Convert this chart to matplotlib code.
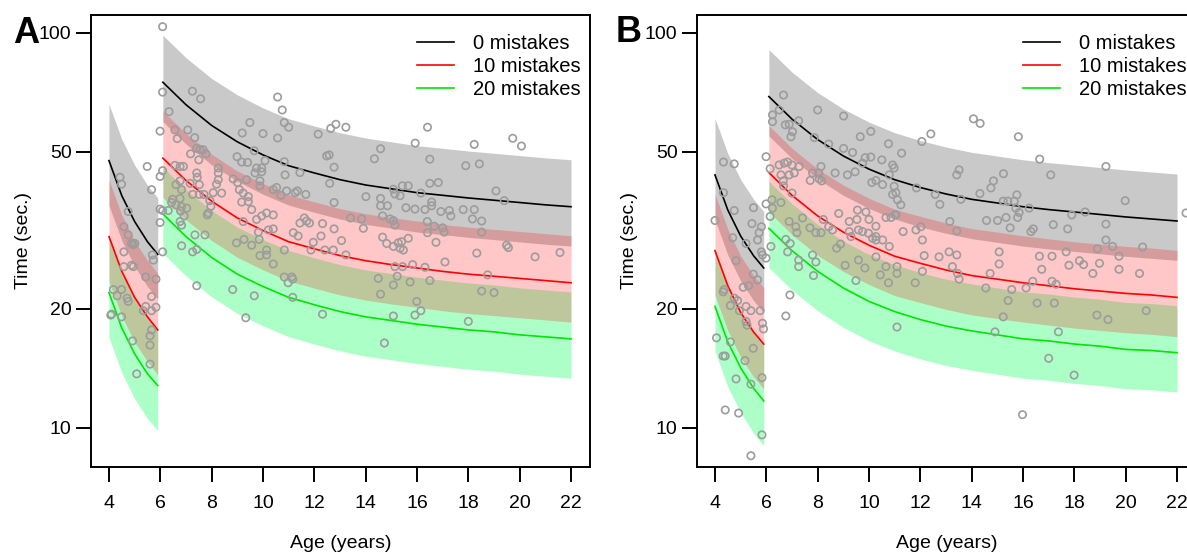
import matplotlib
matplotlib.use('Agg')
import matplotlib.pyplot as plt
import numpy as np

plt.rcParams['font.family'] = ['Liberation Sans', 'DejaVu Sans']

# model curves (time in sec.)
ages_young = [4.0, 4.5, 5.0, 5.5, 5.9]
ages_old = [6.1, 7, 8, 9, 10, 11, 12, 13, 14, 15, 16, 17, 18, 19, 20, 21, 22]

a_black_young = [47.5, 38.7, 33.3, 29.6, 27.5]
a_red_young = [30.5, 24.9, 21.4, 19.1, 17.7]
a_green_young = [22.0, 17.9, 15.4, 13.7, 12.8]
a_black_old = [75.0, 65.8, 58.3, 53.0, 49.1, 46.1, 44.2, 42.5, 41.2, 40.3, 39.4, 38.8, 38.2, 37.7, 37.2, 36.7, 36.3]
a_red_old = [48.2, 42.3, 37.5, 34.0, 31.6, 29.6, 28.4, 27.3, 26.5, 25.9, 25.4, 24.9, 24.5, 24.2, 23.9, 23.6, 23.3]
a_green_old = [34.8, 30.5, 27.0, 24.5, 22.8, 21.4, 20.5, 19.7, 19.1, 18.7, 18.3, 18.0, 17.7, 17.5, 17.2, 17.0, 16.8]

b_black_young = [43.7, 35.6, 30.6, 27.3, 25.4]
b_red_young = [28.1, 22.9, 19.6, 17.5, 16.3]
b_green_young = [20.3, 16.5, 14.2, 12.6, 11.7]
b_black_old = [69.0, 60.5, 53.7, 48.8, 45.2, 42.5, 40.6, 39.1, 37.9, 37.1, 36.3, 35.7, 35.2, 34.7, 34.2, 33.8, 33.4]
b_red_old = [44.3, 38.8, 34.4, 31.3, 29.0, 27.2, 26.1, 25.1, 24.3, 23.8, 23.3, 22.9, 22.5, 22.2, 21.9, 21.7, 21.4]
b_green_old = [32.0, 28.1, 24.9, 22.6, 20.9, 19.7, 18.8, 18.1, 17.6, 17.2, 16.8, 16.6, 16.3, 16.1, 15.8, 15.7, 15.5]

# interval edges as ratio to the curve (upper, lower)
band_young = (1.39, 0.77)
band_old = (1.315, 0.795)

labels = ['0 mistakes', '10 mistakes', '20 mistakes']

# observed points (age, time)
a_age = [4.43, 4.49, 5.66, 4.75, 4.58, 4.75, 4.88, 4.95, 5.01, 4.58, 4.58, 4.88, 4.95, 5.69, 5.73, 5.43, 5.83,
         4.17, 4.49, 4.32, 4.71, 4.75, 5.66, 5.43, 5.34, 5.66, 5.83, 4.1, 4.07, 4.49, 5.66, 5.6, 4.92, 5.08, 5.6,
         5.6, 5.49,
         6.09, 6.09, 7.25, 7.57, 6.34, 5.99, 6.57, 6.66, 7.07, 7.34, 6.09, 6.57, 6.77, 6.9, 7.42, 7.55, 7.67, 7.18,
         7.5, 7.78, 8.26, 8.99, 9.19, 9.49, 9.17, 9.40, 9.66, 9.75, 9.95, 10.08, 10.0, 10.57, 10.75, 10.57, 10.83,
         11.0, 10.83, 12.15, 12.64, 12.84, 13.23, 12.48, 12.58, 12.77,
         16.41, 14.58, 14.34, 15.93, 16.5, 18.23, 17.9, 18.43, 19.73, 20.07,
         5.99, 6.77, 7.16, 7.42, 7.44, 7.52, 7.26, 7.52, 7.7, 8.06, 8.26, 8.26, 6.48, 6.61, 6.83, 7.03, 6.79, 6.93,
         5.99, 6.09, 6.31, 5.99, 6.77, 6.83, 6.09, 6.83, 7.35, 7.74, 7.26, 7.42, 7.83, 7.97, 7.42, 8.82, 9.66, 9.33,
         9.17, 9.43, 9.56, 9.75, 9.95, 10.14, 10.4, 9.23, 8.97, 9.26, 9.56, 9.85, 10.14, 10.14, 10.4, 9.82, 10.21,
         10.4, 10.83, 11.12, 10.98, 11.16, 11.18, 11.37, 11.44, 11.61, 11.7, 11.81, 11.96, 12.26, 12.32, 12.77,
         13.06, 13.23, 12.32, 10.86, 11.25, 11.34, 11.67, 12.77, 12.6, 11.44, 9.69, 9.95, 9.88, 9.36, 9.88, 8.84,
         9.01, 9.08, 9.23, 9.43, 10.4, 10.53, 10.7, 10.92, 8.19, 8.39, 7.93, 7.87, 6.61, 6.83, 6.77, 6.44, 9.88,
         10.83, 11.16, 11.87, 12.41, 12.74,
         14.01, 14.58, 14.58, 14.85, 14.66, 14.95, 15.08, 15.14, 15.43, 15.66, 15.08, 15.14, 15.34, 15.57, 15.92,
         16.31, 16.15, 16.5, 16.83, 16.57, 16.57, 16.93, 17.26, 17.32, 17.8, 18.23, 18.16, 18.52, 18.52, 19.08,
         19.4, 13.41, 13.84, 13.91, 14.66, 14.82, 15.08, 15.27, 15.4, 15.47, 15.34, 15.66, 16.4, 16.41, 16.67, 17.0,
         17.06, 16.74, 17.09, 18.33, 19.49, 19.56, 20.6, 21.57, 15.14, 15.44, 15.83, 16.31, 15.23, 15.08, 15.73,
         16.5, 14.49, 14.58, 15.99, 16.15, 15.92, 15.08, 18.0, 18.75, 18.52, 19.0, 14.73]
a_time = [43.1, 41.4, 40.1, 35.3, 32.3, 30.8, 29.3, 29.1, 29.3, 27.9, 25.6, 25.8, 25.6, 27.4, 26.6, 24.1, 23.8,
          22.4, 22.4, 21.6, 21.3, 20.9, 21.5, 20.3, 19.8, 19.8, 20.2, 19.4, 19.3, 19.1, 17.7, 17.1, 16.6, 13.7, 16.2,
          14.5, 45.9,
          103.7, 70.8, 71.2, 68.1, 63.2, 56.4, 56.8, 54.0, 56.8, 54.3, 44.8, 46.2, 45.9, 45.9, 51.0, 50.7, 50.6, 49.4,
          47.7, 49.4, 45.5, 48.6, 55.8, 59.3, 47.1, 47.0, 50.3, 45.5, 45.5, 47.5, 55.6, 68.8, 63.8, 54.2, 59.3,
          57.7, 47.2, 55.4, 57.3, 58.7, 57.7, 48.8, 49.1, 45.7,
          57.7, 50.9, 48.0, 52.6, 47.9, 52.2, 46.1, 46.6, 54.1, 51.7,
          43.3, 42.2, 41.6, 44.2, 43.1, 41.3, 39.0, 39.0, 39.0, 39.4, 44.2, 42.5, 37.9, 36.7, 36.3, 36.0, 35.4, 34.4,
          35.8, 35.5, 35.5, 33.1, 33.3, 32.6, 27.9, 28.9, 30.8, 30.8, 27.9, 28.3, 34.6, 36.4, 22.9, 22.4, 21.6, 19.0,
          37.3, 37.4, 35.7, 33.7, 34.4, 35.0, 34.6, 33.3, 29.4, 30.0, 29.0, 30.0, 28.2, 27.4, 26.0, 31.3, 31.7,
          31.9, 28.2, 24.1, 23.3, 21.4, 31.2, 30.6, 33.0, 34.0, 33.4, 33.0, 29.5, 30.6, 32.9, 31.9,
          29.8, 27.4, 19.4, 43.7, 39.4, 39.8, 39.0, 37.2, 41.6, 44.3, 44.2, 44.5, 42.2, 42.5, 41.0, 42.7,
          41.8, 40.1, 39.3, 38.5, 40.1, 40.6, 38.8, 39.8, 41.4, 39.3, 37.6, 35.0, 41.3, 40.1, 38.1, 37.2, 27.3,
          24.1, 23.8, 28.2, 28.2, 28.2,
          38.5, 38.1, 36.5, 36.5, 34.4, 33.8, 33.5, 32.6, 41.0, 41.0, 40.2, 39.1, 38.7, 36.1, 35.8,
          35.7, 39.3, 41.6, 41.8, 37.3, 36.5, 35.3, 35.5, 34.4, 35.7, 35.7, 33.8, 33.4, 31.3, 39.8,
          37.6, 34.0, 33.8, 32.0, 30.4, 29.3, 28.8, 29.4, 29.6, 28.2, 28.5, 30.2, 33.3, 31.2, 32.4, 32.1,
          31.3, 29.5, 26.3, 27.7, 29.0, 28.6, 27.1, 27.8, 25.6, 25.6, 25.9, 25.5, 24.2, 23.0, 23.4,
          23.6, 23.9, 21.8, 20.9, 19.8, 19.3, 19.2, 18.6, 24.4, 22.2, 22.0, 16.4]

b_age = [4.33, 4.75, 4.33, 4.75, 5.5, 4.0, 5.44, 5.81, 5.72, 4.69, 5.21, 5.66, 4.82, 5.49, 5.66, 5.81, 5.85, 5.1,
         5.31, 4.36, 4.32, 4.6, 4.75, 4.88, 4.95, 5.21, 5.4, 5.76, 5.21, 5.25, 5.85, 5.89, 4.06, 4.32, 4.4, 4.6,
         5.49, 5.17, 4.82, 5.4, 5.83, 4.4, 4.92, 5.83, 5.4,
         5.99, 6.24, 6.24, 6.5, 6.67, 6.74, 6.89, 7.02, 7.26, 6.96, 8.0, 9.01, 7.87, 8.43, 9.01, 9.36, 9.66, 10.07,
         9.85, 10.07, 10.5, 10.76, 10.92, 6.5, 6.7, 6.83, 7.0, 7.09, 7.28, 6.57, 6.89, 6.66, 6.15, 7.8, 8.04, 8.13,
         7.71, 8.06, 8.16, 8.68, 9.16, 9.46, 9.75, 10.11, 10.27, 10.53, 10.79, 10.98, 11.05, 6.67, 7.0, 6.57, 5.99,
         7.41, 7.7, 8.22, 8.58, 8.82, 9.23, 9.55, 9.53, 9.59, 9.88, 10.0, 10.27, 10.27, 10.14, 10.66, 10.86, 11.02,
         6.22, 6.24, 6.15, 6.89, 7.15, 6.76, 6.93, 6.18, 7.19, 7.93, 8.13, 8.43, 8.74, 8.89, 9.23, 9.3, 9.75, 9.98,
         10.27, 10.53, 10.79,
         5.99, 6.92, 6.76, 7.26, 7.26, 7.84, 7.93, 9.07, 9.49, 9.59, 9.84, 10.27, 10.44, 10.66, 10.76, 11.09,
         11.09, 11.09, 6.83, 7.8,
         14.07, 14.33, 12.41, 12.06, 15.82, 16.65, 19.23, 17.08, 15.24, 14.85, 14.75, 13.51, 13.42, 11.27, 10.98,
         10.92, 11.11, 11.24, 11.05, 11.85, 12.58, 12.76, 13.58, 14.32, 15.23, 15.41, 15.66, 15.76, 15.72, 15.85,
         16.24, 17.9, 18.42, 19.98, 19.23, 13.15, 13.42, 14.58, 15.01, 15.34, 15.5, 15.79, 16.31, 16.4, 17.18,
         17.74, 18.9, 19.23, 19.49, 20.66, 11.33, 11.83, 12.02, 12.08, 22.35,
         12.15, 12.73, 13.12, 13.42, 13.25, 13.45, 13.51, 11.8, 12.08, 14.55, 14.72, 15.07, 15.07, 15.56, 15.42,
         15.23, 14.91, 16.12, 16.38, 16.64, 16.73, 16.55, 17.13, 17.13, 17.29, 17.22, 17.38, 17.68, 17.79, 18.2,
         18.36, 18.72, 18.98, 18.88, 19.31, 19.74, 19.74, 20.54, 20.8, 17.0, 17.99, 15.98]
b_time = [47.1, 46.6, 39.4, 35.5, 36.1, 33.5, 32.9, 32.3, 31.2, 30.3, 29.3, 29.9, 26.5, 24.5, 23.7, 27.9, 27.4, 22.7,
          22.9, 22.4, 22.1, 20.4, 21.3, 21.0, 19.8, 20.3, 19.8, 19.8, 18.6, 18.2, 18.4, 17.8, 16.9, 15.2, 15.2, 16.5,
          15.9, 14.8, 13.3, 12.9, 13.4, 11.1, 10.9, 9.6, 8.5,
          48.6, 59.6, 62.0, 63.8, 69.6, 58.5, 58.7, 56.2, 59.9, 54.6, 63.8, 61.6, 54.3, 52.3, 51.0, 49.8, 54.6, 56.3,
          48.3, 48.5, 47.7, 52.4, 46.3, 46.3, 46.8, 47.1, 46.3, 44.2, 45.9, 43.7, 43.7, 42.2, 45.3, 44.2, 44.2, 45.9,
          42.3, 42.7, 42.2, 44.2, 43.7, 44.5, 46.8, 41.8, 42.3, 41.3, 43.7, 45.5, 39.4, 41.0, 39.3, 37.2, 36.9,
          34.0, 32.1, 33.7, 31.7, 34.9, 33.3, 35.6, 33.7, 31.7, 35.2, 33.7, 32.4, 30.5, 30.2, 34.1, 34.1, 34.7,
          37.8, 36.0, 34.3, 33.3, 32.3, 30.0, 29.3, 28.8, 31.2, 31.2, 31.2, 32.3, 28.5, 29.2, 31.4, 30.5, 31.4, 31.1,
          29.9, 29.9, 28.8,
          26.9, 21.7, 19.2, 26.6, 25.6, 24.3, 26.3, 25.8, 23.6, 26.6, 25.4, 27.1, 24.4, 25.6, 23.3, 25.6,
          24.6, 18.0, 27.9, 27.4,
          60.6, 59.0, 55.5, 53.1, 54.6, 47.9, 45.9, 43.7, 44.0, 42.2, 40.5, 45.0, 43.7, 49.6, 40.9,
          39.0, 37.8, 36.7, 34.6, 40.5, 39.0, 36.8, 37.9, 39.2, 37.5, 37.5, 37.5, 38.9, 36.0, 35.1,
          36.0, 34.6, 35.2, 37.6, 32.8, 33.3, 31.5, 33.5, 33.5, 34.1, 32.1, 34.1, 31.4, 31.9, 32.7,
          31.9, 28.4, 29.9, 28.8, 28.7, 31.4, 31.7, 32.3, 29.9, 35.0,
          27.3, 27.1, 27.9, 27.4, 25.6, 24.6, 23.8, 23.3, 24.9, 22.6, 24.6, 26.0, 27.9, 22.4, 21.0,
          19.1, 17.5, 22.6, 23.5, 27.2, 25.2, 20.7, 27.2, 23.5, 23.1, 20.7, 17.5, 27.9, 25.8, 26.5,
          25.9, 24.6, 26.1, 19.3, 18.8, 27.2, 25.2, 24.6, 19.8, 15.0, 13.6, 10.8]

line_colors = ['black', '#ff0000', '#00e600']
band_colors = [('#808080', 0.42), ('#ff0000', 0.22), ('#00ff55', 0.32)]


def draw_panel(ax, young, old, pts_x, pts_y):
    # bands: gray, green, then red on top
    for i in [0, 2, 1]:
        for ages, curves, band in [(ages_young, young, band_young), (ages_old, old, band_old)]:
            c = np.array(curves[i])
            ax.fill_between(ages, c * band[1], c * band[0], color=band_colors[i][0],
                            alpha=band_colors[i][1], lw=0)
    handles = []
    for i in range(3):
        ax.plot(ages_young, young[i], color=line_colors[i], lw=1.2)
        h, = ax.plot(ages_old, old[i], color=line_colors[i], lw=1.2)
        handles.append(h)
    ax.scatter(pts_x, pts_y, s=28, facecolors='none', edgecolors='#9c9c9c', linewidths=1.2, zorder=5)

    ax.set_yscale('log')
    ax.set_xlim(3.3, 22.74)
    ax.set_ylim(7.96, 111)
    ax.set_xticks(range(4, 23, 2))
    ax.set_yticks([10, 20, 50, 100])
    ax.set_yticklabels(['10', '20', '50', '100'])
    ax.yaxis.set_minor_locator(matplotlib.ticker.NullLocator())
    ax.tick_params(axis='both', direction='out', length=11, width=1.4, labelsize=14)
    ax.tick_params(axis='x', pad=9)
    ax.tick_params(axis='y', pad=3)
    for s in ax.spines.values():
        s.set_linewidth(1.4)
    ax.set_xlabel('Age (years)', fontsize=14, labelpad=17)
    ax.set_ylabel('Time (sec.)', fontsize=14, labelpad=5)
    ax.legend(handles, labels, loc='upper left', bbox_to_anchor=(0.653, 0.957), frameon=False,
              fontsize=14.5, handlelength=1.84, handletextpad=0.95, labelspacing=0.2,
              borderaxespad=0, borderpad=0)


fig = plt.figure(figsize=(11.87, 5.52), dpi=100)
ax_a = fig.add_axes([0.07666, 0.15399, 0.42039, 0.81884])
ax_b = fig.add_axes([0.58720, 0.15399, 0.42039, 0.81884])

draw_panel(ax_a, [a_black_young, a_red_young, a_green_young],
           [a_black_old, a_red_old, a_green_old], a_age, a_time)
draw_panel(ax_b, [b_black_young, b_red_young, b_green_young],
           [b_black_old, b_red_old, b_green_old], b_age, b_time)

fig.text(13 / 1187, 1 - 43 / 552, 'A', fontsize=26, fontweight='bold', va='baseline')
fig.text(616 / 1187, 1 - 42 / 552, 'B', fontsize=26, fontweight='bold', va='baseline')

fig.savefig('out.png', dpi=100)
